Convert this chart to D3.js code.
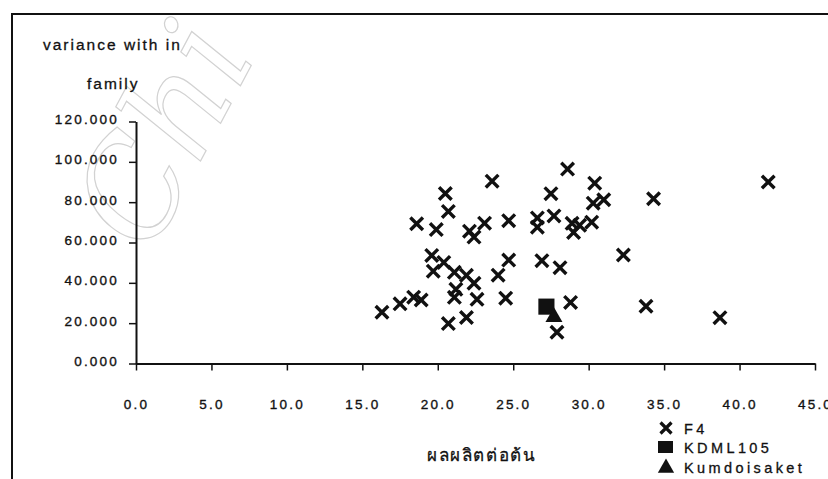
<!DOCTYPE html>
<html>
<head>
<meta charset="utf-8">
<script src="https://cdn.jsdelivr.net/npm/d3@7"></script>
<style>
  html, body { margin: 0; padding: 0; background: #fff; }
  svg { display: block; }
  .tick text { font-family: "Liberation Sans", Arial, sans-serif; font-size: 13.5px; letter-spacing: 2.2px; fill: #111; stroke: #111; stroke-width: 0.35px; }
  .lbl { font-family: "Liberation Sans", Arial, sans-serif; fill: #111; stroke: #111; stroke-width: 0.3px; }
</style>
</head>
<body>
<svg id="chart" width="828" height="479"></svg>
<script>
// Axis ticks
const xTicks = [0, 5, 10, 15, 20, 25, 30, 35, 40, 45];
const yTicks = [0, 20, 40, 60, 80, 100, 120];

// F4 families: yield per plant (x) and within-family variance (y)
const f4X = [16.3, 17.5, 18.4, 18.9, 18.6, 19.6, 19.7, 19.9, 20.4, 20.5,
             20.7, 20.7, 21.1, 21.2, 21.1, 21.9, 21.9, 22.4, 22.6, 22.1,
             22.4, 23.1, 23.6, 24.0, 24.5, 24.7, 24.7, 26.6, 26.6, 26.9,
             27.5, 27.7, 28.1, 28.6, 28.8, 27.9, 28.9, 29.4, 29.0, 30.2,
             30.4, 30.3, 31.0, 32.3, 33.8, 34.3, 38.7, 41.9];
const f4Y = [25.4, 29.6, 32.9, 31.5, 69.3, 53.6, 45.8, 66.4, 50.1, 84.3,
             75.4, 19.8, 45.2, 36.8, 32.8, 43.7, 22.8, 39.8, 31.8, 65.6,
             62.7, 69.6, 90.4, 43.8, 32.4, 51.3, 70.8, 72.2, 67.6, 51.0,
             84.2, 73.2, 47.5, 96.4, 30.3, 15.5, 69.5, 68.5, 65.0, 70.1,
             89.4, 79.5, 81.2, 53.8, 28.4, 81.7, 22.7, 90.0];

// Check varieties
const kdmlX = [27.2], kdmlY = [28.2];
const kumX = [27.7], kumY = [23.0];

const legendNames = ["F4", "KDML105", "Kumdoisaket"];

const svg = d3.select("#chart");

// faint diagonal watermark
svg.append("text")
  .attr("transform", "translate(150,256) rotate(-62)")
  .attr("font-family", "'DejaVu Serif', 'Liberation Serif', serif")
  .attr("font-style", "italic")
  .attr("font-size", 132)
  .attr("fill", "none")
  .attr("stroke", "#d2d2d2")
  .attr("stroke-width", 1.2)
  .text("Chi");

// outer frame (left and top edges)
svg.append("path")
  .attr("d", "M12,479 L12,14 L828,14")
  .attr("fill", "none")
  .attr("stroke", "#111")
  .attr("stroke-width", 2);

const x = d3.scaleLinear().domain([0, 45]).range([136, 815]);
const y = d3.scaleLinear().domain([0, 120]).range([363.5, 121.5]);

// y axis
const gy = svg.append("g")
  .attr("transform", `translate(${x(0)},0)`)
  .call(d3.axisLeft(y).tickValues(yTicks).tickSize(7).tickSizeOuter(0)
    .tickPadding(10).tickFormat(d3.format(".3f")));
gy.selectAll("text").attr("dy", "0.15em");

// x axis
const gx = svg.append("g")
  .attr("transform", `translate(0,${y(0)})`)
  .call(d3.axisBottom(x).tickValues(xTicks).tickSize(7).tickSizeOuter(0)
    .tickPadding(29).tickFormat(d3.format(".1f")));

[gx, gy].forEach(g => {
  g.select(".domain").attr("stroke", "#111").attr("stroke-width", 2);
  g.selectAll(".tick line").attr("stroke", "#111").attr("stroke-width", 1.5);
});

// y axis title
svg.append("text").attr("class", "lbl")
  .attr("x", 43).attr("y", 50)
  .attr("font-size", 15.5).attr("letter-spacing", 2)
  .text("variance with in");
svg.append("text").attr("class", "lbl")
  .attr("x", 87).attr("y", 89)
  .attr("font-size", 15.5).attr("letter-spacing", 2)
  .text("family");

// x axis title
svg.append("text").attr("class", "lbl")
  .attr("x", 427).attr("y", 461)
  .attr("font-family", "'Noto Sans Thai', 'Noto Sans', sans-serif")
  .attr("font-size", 17).attr("letter-spacing", 1.6)
  .text("ผลผลิตต่อต้น");

// cross marker path
const cross = (cx, cy, r) => `M${cx - r},${cy - r}L${cx + r},${cy + r}M${cx - r},${cy + r}L${cx + r},${cy - r}`;

const f4 = f4X.map((v, i) => ({ x: v, y: f4Y[i] }));
svg.append("g").selectAll("path").data(f4).join("path")
  .attr("d", d => cross(x(d.x), y(d.y), 6.3))
  .attr("fill", "none")
  .attr("stroke", "#111")
  .attr("stroke-width", 3.4);

svg.append("g").selectAll("path")
  .data(kdmlX.map((v, i) => ({ x: v, y: kdmlY[i] }))).join("path")
  .attr("transform", d => `translate(${x(d.x)},${y(d.y)})`)
  .attr("d", d3.symbol(d3.symbolSquare, 260))
  .attr("fill", "#111");

svg.append("g").selectAll("path")
  .data(kumX.map((v, i) => ({ x: v, y: kumY[i] }))).join("path")
  .attr("transform", d => `translate(${x(d.x)},${y(d.y)})`)
  .attr("d", d3.symbol(d3.symbolTriangle, 125))
  .attr("fill", "#111");

// legend
const lg = svg.append("g");
const legendY = [428, 447, 467];
lg.append("path").attr("d", cross(666, legendY[0], 5.5))
  .attr("stroke", "#111").attr("stroke-width", 3.2).attr("fill", "none");
lg.append("rect").attr("x", 658).attr("y", legendY[1] - 6).attr("width", 15).attr("height", 12).attr("fill", "#111");
lg.append("path").attr("transform", `translate(666,${legendY[2] + 1})`)
  .attr("d", d3.symbol(d3.symbolTriangle, 115)).attr("fill", "#111");
lg.selectAll("text").data(legendNames).join("text")
  .attr("class", "lbl")
  .attr("x", 684).attr("y", (d, i) => legendY[i] + 5.5)
  .attr("font-size", 14.5).attr("letter-spacing", 3.4)
  .text(d => d);
</script>
</body>
</html>
